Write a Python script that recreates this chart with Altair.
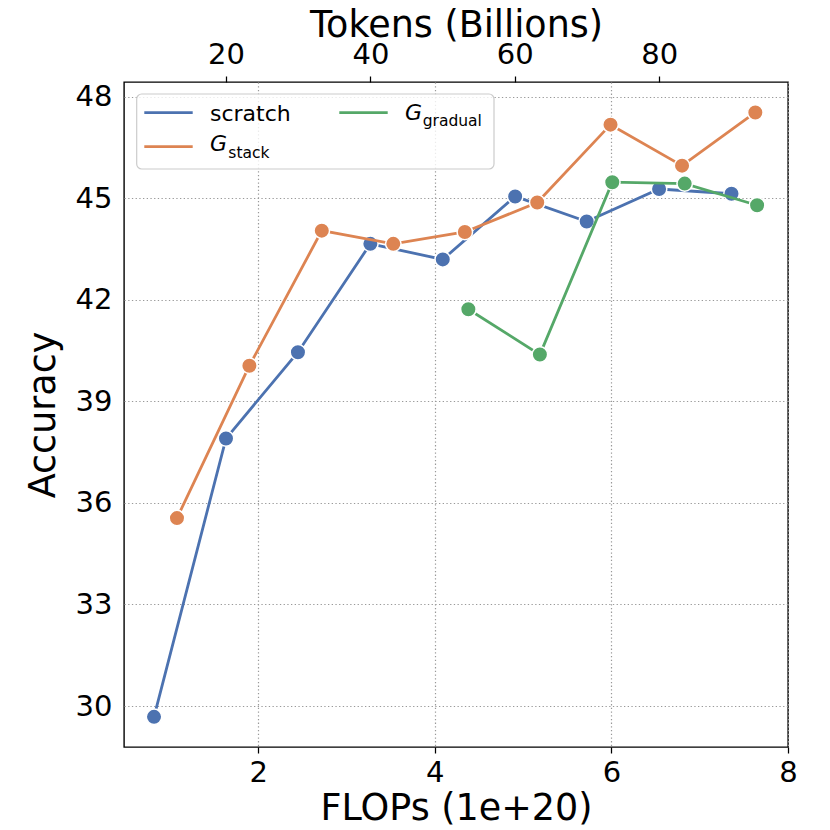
import altair as alt
import pandas as pd

# ---- data ----
scratch_flops = [0.82, 1.635, 2.45, 3.27, 4.09, 4.91, 5.72, 6.54, 7.36]
scratch_acc = [29.68, 37.90, 40.45, 43.65, 43.19, 45.05, 44.31, 45.27, 45.13]
stack_flops = [1.08, 1.90, 2.72, 3.53, 4.34, 5.16, 5.99, 6.80, 7.63]
stack_acc = [35.55, 40.05, 44.04, 43.65, 44.00, 44.87, 47.17, 45.96, 47.53]
gradual_flops = [4.38, 5.19, 6.01, 6.83, 7.65]
gradual_acc = [41.72, 40.38, 45.47, 45.43, 44.79]

series_names = ["scratch", "stack", "gradual"]
series_colors = ["#4C72B0", "#DD8452", "#55A868"]

flops_ticks = [2, 4, 6, 8]
acc_ticks = [30, 33, 36, 39, 42, 45, 48]
token_ticks = [20, 40, 60, 80]

x_domain = [0.48, 8.0]
y_domain = [28.79, 48.43]
token_domain = [5.87, 97.84]

FONT = "DejaVu Sans"
TICK_FS = 29
TITLE_FS = 36.5

frames = []
for name, fx, fy in [("scratch", scratch_flops, scratch_acc),
                     ("stack", stack_flops, stack_acc),
                     ("gradual", gradual_flops, gradual_acc)]:
    frames.append(pd.DataFrame({"series": name, "flops": fx, "acc": fy}))
df = pd.concat(frames, ignore_index=True)

xscale = alt.Scale(domain=x_domain, nice=False, zero=False)
yscale = alt.Scale(domain=y_domain, nice=False, zero=False)

grid_kw = dict(grid=True, gridDash=[1.3, 2.4], gridColor="#999999", gridWidth=1.2)

x_axis = alt.Axis(values=flops_ticks, format="d", title="FLOPs (1e+20)",
                  labelFontSize=TICK_FS, titleFontSize=TITLE_FS, titleFontWeight="normal",
                  tickSize=6, tickWidth=1.25, tickColor="black", domain=False,
                  labelPadding=5, labelFlush=False, labelOverlap=False,
                  titleY=72, titleBaseline="alphabetic",
                  labelColor="black", titleColor="black", orient="bottom", **grid_kw)
y_axis = alt.Axis(values=acc_ticks, format="d", title="Accuracy",
                  labelFontSize=TICK_FS, titleFontSize=TITLE_FS, titleFontWeight="normal",
                  tickSize=0, domain=False, labelPadding=12, labelFlush=False,
                  titleX=-70, titleBaseline="alphabetic",
                  labelColor="black", titleColor="black", orient="left", **grid_kw)

layers = []
first = True
for name, col in zip(series_names, series_colors):
    sub = alt.Chart(df).transform_filter(alt.datum.series == name)
    for kind in ("line", "point"):
        enc = dict(x=alt.X("flops:Q", scale=xscale, axis=x_axis if first else None),
                   y=alt.Y("acc:Q", scale=yscale, axis=y_axis))
        first = False
        if kind == "line":
            layers.append(sub.mark_line(color=col, strokeWidth=2.8).encode(**enc))
        else:
            layers.append(sub.mark_circle(color=col, size=240, opacity=1, stroke="white",
                                          strokeWidth=1.5).encode(**enc))

one = pd.DataFrame({"a": [0]})
legend_box = alt.Chart(one).mark_rect(cornerRadius=5, fill="white", fillOpacity=0.8,
                                      stroke="#cccccc", strokeWidth=1.2).encode(
    x=alt.value(12.7), x2=alt.value(370), y=alt.value(12), y2=alt.value(87))

def lrule(col, x1, x2, y):
    return alt.Chart(one).mark_rule(color=col, strokeWidth=2.8).encode(
        x=alt.value(x1), x2=alt.value(x2), y=alt.value(y))

def ltext(txt, x, y, size, italic=False):
    kw = dict(align="left", baseline="alphabetic", fontSize=size, font=FONT, color="black")
    if italic:
        kw["fontStyle"] = "italic"
    return alt.Chart(one).mark_text(**kw).encode(
        x=alt.value(x), y=alt.value(y), text=alt.value(txt))

legend = [
    legend_box,
    lrule(series_colors[0], 20.3, 68.7, 30.7),
    lrule(series_colors[1], 20.3, 68.7, 64.7),
    lrule(series_colors[2], 215.3, 263.7, 30.7),
    ltext("scratch", 86, 38.7, 22),
    ltext("G", 86, 69, 22, italic=True),
    ltext("stack", 104.3, 75.5, 15.5),
    ltext("G", 281, 37.5, 22, italic=True),
    ltext("gradual", 298.7, 43.5, 15.5),
]

tok = pd.DataFrame({"tokens": token_ticks})
top = alt.Chart(tok).mark_point(opacity=0).encode(
    x=alt.X("tokens:Q", scale=alt.Scale(domain=token_domain, nice=False, zero=False),
            axis=alt.Axis(orient="top", values=token_ticks, format="d",
                          title="Tokens (Billions)", labelFontSize=TICK_FS,
                          titleFontSize=TITLE_FS, titleFontWeight="normal",
                          tickSize=6, tickWidth=1.25, tickColor="black",
                          domain=False, grid=False, labelPadding=7,
                          labelFlush=False, labelOverlap=False,
                          titleY=-46, titleBaseline="alphabetic",
                          labelColor="black", titleColor="black")),
    y=alt.value(0))

chart = alt.layer(*layers, top, *legend).resolve_scale(x="independent").properties(
    width=664, height=665,
    autosize=alt.AutoSizeParams(type="none"),
    padding={"left": 116, "top": 74, "right": 24, "bottom": 82},
).configure_axis(labelFont=FONT, titleFont=FONT).configure_view(
    stroke="black", strokeWidth=1.4)

chart.save("out.html", embed_options={"renderer": "svg", "actions": False})
